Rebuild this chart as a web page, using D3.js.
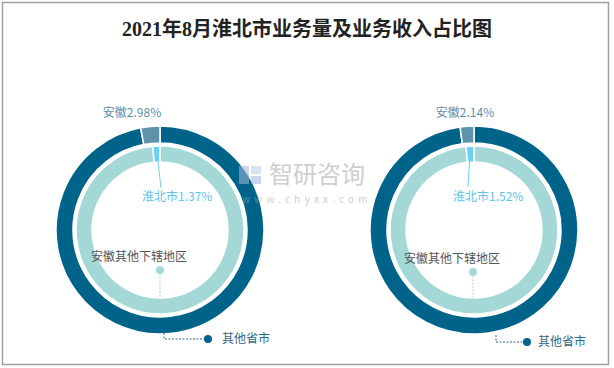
<!DOCTYPE html>
<html><head><meta charset="utf-8">
<script src="https://cdn.jsdelivr.net/npm/d3@7/dist/d3.min.js"></script>
<style>
body{margin:0;background:#fff}
svg{display:block}
text{font-family:"Noto Sans CJK SC","Noto Sans",sans-serif}
</style>
</head><body>
<svg id="c" width="614" height="368"></svg>
<script>
// ---- data ----
const title = "2021年8月淮北市业务量及业务收入占比图";
const chartIds = [0, 1];
const outerCategories = ["其他省市", "安徽"];
const innerCategories = ["安徽其他下辖地区", "淮北市"];
const outerValues = [[97.02, 2.98], [97.86, 2.14]];
const innerValues = [[98.63, 1.37], [98.48, 1.52]];
const outerColors = ["#00648a", "#5f93ab"];
const innerColors = ["#a3d8d6", "#6ecff5"];

// ---- layout ----
const svg = d3.select("#c");
svg.append("rect").attr("x", 2.5).attr("y", 2.5).attr("width", 606).attr("height", 362)
  .attr("fill", "#fff").attr("stroke", "#a0a0a0").attr("stroke-width", 1.5);

svg.append("text").attr("x", 307).attr("y", 36).attr("text-anchor", "middle")
  .attr("font-size", 20).attr("font-weight", "bold").attr("fill", "#222")
  .style("font-family", "'Liberation Serif','Noto Sans CJK SC',serif")
  .text(title);

const xCenter = d3.scalePoint().domain(chartIds).range([160, 474]);
const cy = 230;
const outerArc = d3.arc().innerRadius(87).outerRadius(104);
const innerArc = d3.arc().innerRadius(68).outerRadius(84);
const pie = d3.pie().sort(null).value(d => d.v);

// per-chart label placement offsets (layout only)
const lay = [
  {ah: -28, hbEnd: [1, -42], hbText: -18, other: {x: 4, y1: 103, y2: 109, dot: 48, txt: 62}, dotX: 0, dotY: 40},
  {ah: -9,  hbEnd: [-6, -43], hbText: -21, other: {x: 22, y1: 105, y2: 112, dot: 53, txt: 64}, dotX: -1, dotY: 42}
];

chartIds.forEach(i => {
  const cx = xCenter(i);
  const L = lay[i];
  const g = svg.append("g").attr("transform", `translate(${cx},${cy})`);
  const od = pie(outerCategories.map((c, k) => ({c, v: outerValues[i][k], col: outerColors[k]})));
  const id = pie(innerCategories.map((c, k) => ({c, v: innerValues[i][k], col: innerColors[k]})));

  g.selectAll("path.o").data(od).join("path").attr("class", "o")
    .attr("d", outerArc).attr("fill", d => d.data.col)
    .attr("stroke", "#fff").attr("stroke-width", 1.5);
  g.selectAll("path.i").data(id).join("path").attr("class", "i")
    .attr("d", innerArc).attr("fill", d => d.data.col)
    .attr("stroke", "#fff").attr("stroke-width", 1.5);

  // 安徽 label
  const ah = od[1];
  g.append("text").attr("x", L.ah).attr("y", -113).attr("text-anchor", "middle")
    .attr("font-size", 12).attr("fill", "#5f8fa8")
    .text(ah.data.c + ah.data.v.toFixed(2) + "%");

  // 淮北市 label with leader
  const hb = id[1];
  const a = (hb.startAngle + hb.endAngle) / 2;
  const sx = Math.sin(a) * 80, sy = -Math.cos(a) * 80;
  g.append("line").attr("x1", sx).attr("y1", sy).attr("x2", L.hbEnd[0]).attr("y2", L.hbEnd[1])
    .attr("stroke", "#6ecff5").attr("stroke-width", 1);
  g.append("text").attr("x", L.hbText).attr("y", -29)
    .attr("font-size", 12).attr("fill", "#5fc3ee")
    .text(hb.data.c + hb.data.v.toFixed(2) + "%");

  // 安徽其他下辖地区 label
  const dx0 = L.dotX, dY = L.dotY;
  g.append("line").attr("x1", dx0).attr("y1", dY).attr("x2", dx0).attr("y2", 68)
    .attr("stroke", "#a3d8d6").attr("stroke-width", 1).attr("stroke-dasharray", "2,1.5");
  g.append("circle").attr("cx", dx0).attr("cy", dY).attr("r", 4).attr("fill", "#a3d8d6");
  g.append("text").attr("x", dx0 + 27).attr("y", dY - 9).attr("text-anchor", "end")
    .attr("font-size", 12).attr("fill", "#555").text(id[0].data.c);

  // 其他省市 label
  const o = L.other;
  g.append("path").attr("d", `M${o.x},${o.y1}V${o.y2}H${o.dot}`)
    .attr("fill", "none").attr("stroke", "#2e6a88").attr("stroke-width", 1).attr("stroke-dasharray", "2,1.5");
  g.append("circle").attr("cx", o.dot).attr("cy", o.y2).attr("r", 4).attr("fill", "#00648a");
  g.append("text").attr("x", o.txt).attr("y", o.y2 + 4)
    .attr("font-size", 12).attr("fill", "#2e6a88").text(od[0].data.c);
});

// watermark
const wm = svg.append("g").attr("opacity", 0.55);
wm.append("rect").attr("x", 239).attr("y", 166).attr("width", 10).attr("height", 18).attr("fill", "#9fb6d8");
wm.append("rect").attr("x", 251).attr("y", 166).attr("width", 10).attr("height", 8).attr("fill", "#b9cbe6");
wm.append("rect").attr("x", 251).attr("y", 176).attr("width", 10).attr("height", 8).attr("fill", "#9fb6d8");
wm.append("text").attr("x", 269).attr("y", 183).attr("font-size", 24).attr("fill", "#a8a8a8").text("智研咨询");
wm.append("text").attr("x", 242).attr("y", 203).attr("font-size", 10).attr("fill", "#a8a8a8")
  .attr("letter-spacing", "4.2").text("www.chyxx.com");
</script>
</body></html>
